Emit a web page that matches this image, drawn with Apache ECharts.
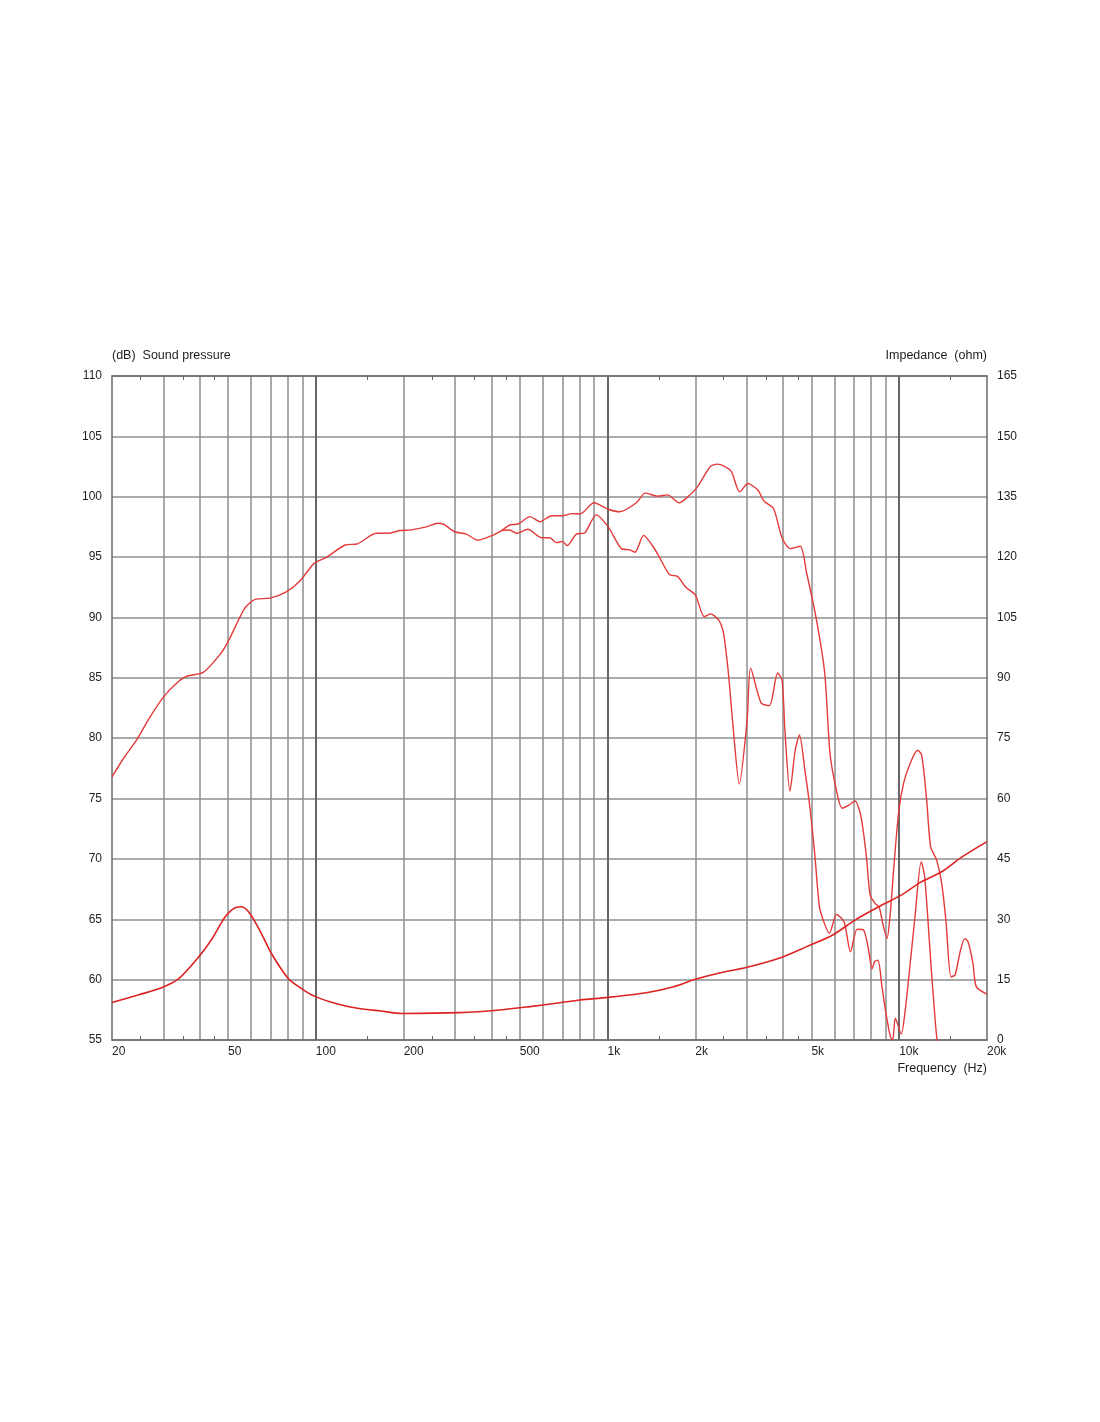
<!DOCTYPE html>
<html>
<head>
<meta charset="utf-8">
<title>Sound pressure / impedance</title>
<script src="https://cdn.jsdelivr.net/npm/echarts@6.0.0/dist/echarts.min.js"></script>
<style>
  html, body { margin: 0; padding: 0; background: #fff; }
  #chart { width: 1100px; height: 1422px; }
</style>
</head>
<body>
<div id="chart"></div>
<script>
// frequency axis
const freqLabels = [20, 50, 100, 200, 500, 1000, 2000, 5000, 10000, 20000]
const minorTicks = [25, 35, 45, 150, 250, 350, 450, 1500, 2500, 3500, 4500, 15000]
const minorGrid = [30, 40, 50, 60, 70, 80, 90, 200, 300, 400, 500, 600, 700, 800, 900,
  2000, 3000, 4000, 5000, 6000, 7000, 8000, 9000]
const majorGrid = [100, 1000, 10000]

// sound pressure, on axis (dB)
const onFreq = [20, 22, 24.3, 26.6, 30, 33.8, 36.3, 41.1, 46.8, 50, 57, 61.9, 69.6, 78.9, 88, 98.8,
  108.9, 125.9, 139, 161, 177, 194, 212, 239, 262, 275, 299, 328, 359, 399, 433, 462, 494,
  542, 587, 643, 705, 753, 805, 899, 1006, 1101, 1256, 1345, 1485, 1608, 1760, 1877, 2031,
  2251, 2370, 2528, 2661, 2839, 3030, 3276, 3450, 3706, 3972, 4238, 4577, 4818, 5204, 5554,
  5790, 6090, 6370, 6720, 7060, 7350, 7550, 7740, 7950, 8280, 8540, 8780, 9080, 9320, 9570,
  9950, 10350, 10900, 11550, 11940, 12420, 12820, 13440, 13980, 14460, 15050, 15540, 16230,
  16780, 17220, 17900, 18390, 20000]
const onDb = [76.8, 78.4, 79.85, 81.5, 83.4, 84.7, 85.15, 85.45, 86.9, 88, 90.75, 91.5, 91.6, 92.1, 93, 94.5,
  95, 96, 96.1, 96.97, 96.97, 97.2, 97.25, 97.5, 97.8, 97.7, 97.1, 96.9, 96.4, 96.75, 97.2, 97.66, 97.74,
  98.35, 97.93, 98.43, 98.43, 98.6, 98.57, 99.5, 98.96, 98.75, 99.5, 100.3, 100.05, 100.15, 99.5, 99.95, 100.8,
  102.5, 102.7, 102.5, 102.07, 100.4, 101.1, 100.55, 99.6, 99.04, 96.56, 95.7, 95.9, 93.66, 89.8, 85.4,
  78.75, 75.7, 74.2, 74.46, 74.8, 73.8, 72.1, 69.9, 67, 66.3, 66, 64.66, 63.4, 65.5, 69.1,
  73.8, 76.26, 77.9, 79, 78.6, 74.9, 71, 69.9, 68, 64.9, 60.24, 60.38, 62.45,
  63.4, 63.14, 61.35, 59.4, 58.8]

// sound pressure, off axis (dB)
const offFreq = [433, 462, 487, 533, 594, 634, 668, 701, 727, 782, 835, 915, 1006, 1116, 1194, 1242,
  1330, 1430, 1506, 1630, 1737, 1856, 2000, 2147, 2251, 2402, 2498, 2596, 2700, 2830, 3010, 3094,
  3364, 3590, 3830, 3966, 4060, 4220, 4400, 4550, 4750, 4940, 5130, 5330, 5540, 5760, 6100, 6470,
  6810, 7170, 7550, 7820, 8070, 8240, 8460, 8730, 9010, 9320, 9500, 9700, 10160, 10490, 11300,
  11900, 12230, 12890, 13400, 13800]
const offDb = [97.2, 97.24, 96.97, 97.3, 96.6, 96.6, 96.2, 96.3, 95.95, 96.9, 97, 98.5, 97.5, 95.7, 95.6, 95.4,
  96.8, 95.9, 95, 93.55, 93.4, 92.5, 91.86, 90.06, 90.3, 89.8, 88.7, 85.4, 80.7, 76.2, 81.5, 85.8,
  82.9, 82.7, 85.4, 84.8, 80.5, 75.6, 79, 80.26, 77.36, 74.3, 70.5, 66, 64.66, 63.84, 65.4, 64.8,
  62.3, 64.17, 64.1, 62.7, 60.9, 61.5, 61.6, 59.4, 57.2, 55.3, 55, 56.8, 55.5, 57.5, 64.94,
  69.77, 68.5, 60.8, 55.6, 53]

// impedance (ohm)
const impFreq = [20, 24.6, 29.6, 33.7, 39.3, 43.8, 48.9, 53.4, 55.6, 59.3, 65, 70.4, 80.4, 89, 98.8,
  118.6, 139, 166.5, 198, 311, 427, 542, 686, 805, 1006, 1358, 1685, 2000, 2402, 3010, 3870,
  4818, 5920, 7060, 8500, 10160, 11900, 13980, 16420, 20000]
const impOhm = [9.3, 11.2, 13, 15.1, 20.3, 24.85, 30.6, 33, 33.1, 31.5, 26.5, 21.5, 15.3, 12.85, 10.9,
  8.95, 7.9, 7.2, 6.6, 6.8, 7.45, 8.3, 9.27, 9.94, 10.6, 11.75, 13.25, 15.1, 16.6, 18.06, 20.3,
  23.2, 26.1, 29.8, 33.1, 36, 39.3, 41.8, 45.5, 49.3]

const textColor = '#1e1e1e'
const font = 'Arial, "Liberation Sans", sans-serif'
const frameColor = '#6a6a6a'
const gridColor = '#8e8e8e'

const pairs = (xs, ys) => xs.map((x, i) => [x, ys[i]])
const fmtFreq = v => (v >= 1000 ? v / 1000 + 'k' : String(v))

const logAxis = extra => Object.assign({
  type: 'log',
  logBase: 10,
  min: 20,
  max: 20000,
  axisLine: { show: false },
  axisTick: { show: false },
  axisLabel: { show: false },
  splitLine: { show: false }
}, extra)

const chart = echarts.init(document.getElementById('chart'))
chart.setOption({
  animation: false,
  backgroundColor: '#fff',
  grid: { left: 112, right: 113, top: 376, bottom: 382, containLabel: false },
  xAxis: [
    logAxis({
      position: 'bottom',
      axisLine: { show: true, onZero: false, lineStyle: { color: frameColor, width: 1.5 } },
      axisTick: { show: true, inside: true, length: 4, customValues: minorTicks, lineStyle: { color: frameColor } },
      axisLabel: {
        show: true, customValues: freqLabels, formatter: fmtFreq, align: 'left', margin: 6,
        color: textColor, fontSize: 12, fontFamily: font
      }
    }),
    logAxis({
      position: 'top',
      axisLine: { show: true, onZero: false, lineStyle: { color: frameColor, width: 1.5 } },
      axisTick: { show: true, inside: true, length: 4, customValues: minorTicks, lineStyle: { color: frameColor } }
    }),
    logAxis({
      position: 'bottom',
      axisTick: { show: false, customValues: minorGrid },
      splitLine: { show: true, lineStyle: { color: gridColor, width: 1.5 } }
    }),
    logAxis({
      position: 'bottom',
      axisTick: { show: false, customValues: majorGrid },
      splitLine: { show: true, lineStyle: { color: '#666', width: 2 } }
    })
  ],
  yAxis: [
    {
      type: 'value',
      position: 'left',
      min: 55,
      max: 110,
      interval: 5,
      name: '(dB)  Sound pressure',
      nameLocation: 'end',
      nameGap: 20,
      nameTextStyle: { align: 'left', verticalAlign: 'middle', color: textColor, fontSize: 12.5, fontFamily: font },
      axisLine: { show: true, lineStyle: { color: frameColor, width: 1.5 } },
      axisTick: { show: false },
      axisLabel: { margin: 10, color: textColor, fontSize: 12, fontFamily: font },
      splitLine: { show: true, lineStyle: { color: gridColor, width: 1.5 } }
    },
    {
      type: 'value',
      position: 'right',
      min: 0,
      max: 165,
      interval: 15,
      name: 'Impedance  (ohm)',
      nameLocation: 'end',
      nameGap: 20,
      nameTextStyle: { align: 'right', verticalAlign: 'middle', color: textColor, fontSize: 12.5, fontFamily: font },
      axisLine: { show: true, lineStyle: { color: frameColor, width: 1.5 } },
      axisTick: { show: false },
      axisLabel: { margin: 10, color: textColor, fontSize: 12, fontFamily: font },
      splitLine: { show: false }
    }
  ],
  graphic: [
    {
      type: 'text',
      right: 113,
      top: 1062,
      style: { text: 'Frequency  (Hz)', fill: textColor, font: '12.5px ' + font }
    }
  ],
  series: [
    {
      name: 'SPL on axis',
      type: 'line',
      xAxisIndex: 0,
      yAxisIndex: 0,
      data: pairs(onFreq, onDb),
      showSymbol: false,
      smooth: 0.25,
      lineStyle: { color: '#e33a3a', width: 1.4 }
    },
    {
      name: 'SPL off axis',
      type: 'line',
      xAxisIndex: 0,
      yAxisIndex: 0,
      data: pairs(offFreq, offDb),
      showSymbol: false,
      smooth: 0.25,
      lineStyle: { color: '#e33a3a', width: 1.4 }
    },
    {
      name: 'Impedance',
      type: 'line',
      xAxisIndex: 0,
      yAxisIndex: 1,
      data: pairs(impFreq, impOhm),
      showSymbol: false,
      smooth: 0.3,
      lineStyle: { color: '#dd2222', width: 1.6 }
    }
  ]
})
</script>
</body>
</html>
